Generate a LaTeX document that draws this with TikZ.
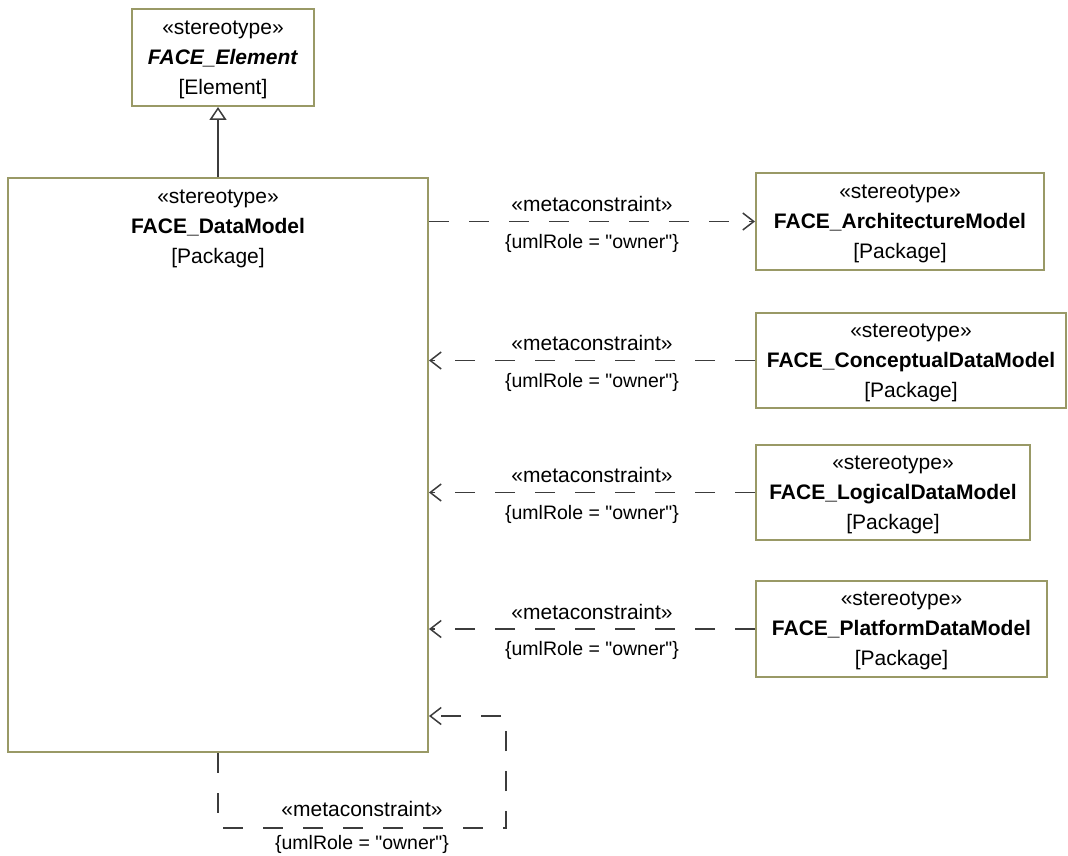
\documentclass[tikz,border=0pt]{standalone}
\usepackage{fontspec}
\setmainfont{Liberation Sans}[Ligatures = TeXOff]
\usetikzlibrary{arrows.meta, positioning}

\definecolor{boxolive}{RGB}{153,153,102}
\definecolor{linegray}{RGB}{60,60,60}

\newcommand{\stereo}{«stereotype»}
\newcommand{\metac}{«metaconstraint»}
\newcommand{\owner}{\{umlRole = "owner"\}}
\newcommand{\pkgkind}{{[Package]}}

\begin{document}
\begin{tikzpicture}
[
	x 					= 1pt,
	y 					= -1pt,
	stereobox/.style 	=
	{
		draw 			= boxolive,
		line width 		= 2pt,
		fill 			= white,
		align 			= center,
		inner sep 		= 0pt,
		text depth 		= 0pt,
		font 			= \fontsize{21}{30}\selectfont,
	},
	boxtext/.style 		= {align = center, inner sep = 0pt, font = \fontsize{21}{30}\selectfont},
	metaline/.style 	=
	{
		draw 			= linegray,
		line width 		= 1.5pt,
		dash pattern 	= on 20pt off 20pt,
		arrows 			= {-Straight Barb[length = 11pt, width = 17pt]},
	},
	genline/.style 		=
	{
		draw 			= linegray,
		line width 		= 1.5pt,
		-{Triangle[open, length = 13pt, width = 17pt, fill = white]},
	},
	metalabel/.style 	= {above = 7pt, inner sep = 2pt, font = \fontsize{21}{24}\selectfont},
	ownerlabel/.style 	= {below = 10pt, inner sep = 2pt, font = \fontsize{19.5}{22}\selectfont},
]

\useasboundingbox (0,0) rectangle (1068,856);

% the stereotypes
\node [stereobox, minimum width = 182pt, minimum height = 97pt] (elem) at (223,57.5)
	{\stereo\\ \textbf{\textit{FACE\_Element}}\\ {[Element]}};
\node [stereobox, minimum width = 420pt, minimum height = 574pt] (dm) at (218,465) {};
\node [boxtext, below = 13pt of dm.north] (dmtext)
	{\stereo\\ \textbf{FACE\_DataModel}\\ \pkgkind};

\node [stereobox, minimum width = 288pt, minimum height = 97pt] (arch) at (900,221.5)
	{\stereo\\ \textbf{FACE\_ArchitectureModel}\\ \pkgkind};
\node [stereobox, minimum width = 310pt, minimum height = 95pt] (cdm) at (911,360.5)
	{\stereo\\ \textbf{FACE\_ConceptualDataModel}\\ \pkgkind};
\node [stereobox, minimum width = 274pt, minimum height = 95pt] (ldm) at (893,492.5)
	{\stereo\\ \textbf{FACE\_LogicalDataModel}\\ \pkgkind};
\node [stereobox, minimum width = 291pt, minimum height = 96pt] (pdm) at (901.5,629)
	{\stereo\\ \textbf{FACE\_PlatformDataModel}\\ \pkgkind};

% generalization
\draw [genline] (dm.north) -- (dm.north |- elem.south);

% metaconstraints
\draw [metaline] (dm.east |- arch.west) -- (arch.west)
	node [midway, metalabel] {\metac}
	node [midway, ownerlabel] {\owner};

\foreach \pkg in {cdm, ldm, pdm}
{
	\draw [metaline] (\pkg.west) -- (dm.east |- \pkg.west)
		node [midway, metalabel] {\metac}
		node [midway, ownerlabel] {\owner};
}

% owner of itself
\coordinate (loopfoot) at (506,828);
\coordinate (loophead) at (506,716);
\draw [metaline] (dm.south) |- (loopfoot)
	node [pos = 0.75, metalabel, above = 9pt] {\metac}
	node [pos = 0.75, ownerlabel, below = 5pt] {\owner}
	-- (loophead) -- (loophead -| dm.east);

\end{tikzpicture}
\end{document}
